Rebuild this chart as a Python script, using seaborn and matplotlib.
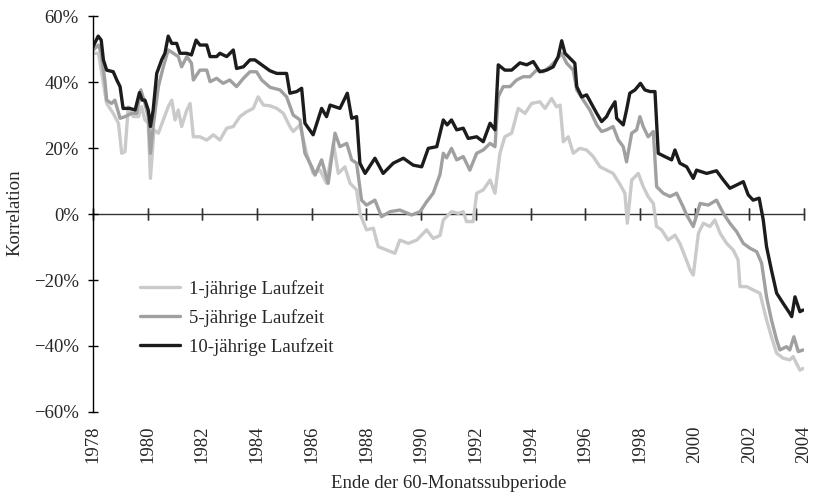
import numpy as np
import pandas as pd
import seaborn as sns
import matplotlib.pyplot as plt
from matplotlib.ticker import FuncFormatter

# Rollierende Korrelationen (60-Monatsfenster), Werte in Prozent
jahre_1j = [1978.00, 1978.20, 1978.30, 1978.50, 1978.74, 1978.93, 1979.05, 1979.17, 1979.29, 1979.47,
            1979.66, 1979.78, 1979.90, 1980.02, 1980.10, 1980.23, 1980.39, 1980.57, 1980.75, 1980.88,
            1981.00, 1981.12, 1981.24, 1981.43, 1981.55, 1981.67, 1981.91, 1982.16, 1982.40, 1982.64,
            1982.89, 1983.13, 1983.37, 1983.62, 1983.86, 1984.04, 1984.23, 1984.47, 1984.72, 1984.96,
            1985.20, 1985.32, 1985.57, 1985.81, 1986.05, 1986.30, 1986.54, 1986.79, 1986.97, 1987.21,
            1987.40, 1987.64, 1987.76, 1988.00, 1988.25, 1988.43, 1988.74, 1989.04, 1989.22, 1989.53,
            1989.84, 1990.20, 1990.44, 1990.69, 1990.81, 1991.11, 1991.36, 1991.54, 1991.66, 1991.90,
            1992.03, 1992.27, 1992.52, 1992.70, 1992.88, 1993.06, 1993.31, 1993.55, 1993.80, 1994.04,
            1994.34, 1994.53, 1994.77, 1994.95, 1995.08, 1995.20, 1995.38, 1995.56, 1995.80, 1996.05,
            1996.29, 1996.54, 1996.78, 1997.02, 1997.27, 1997.45, 1997.54, 1997.70, 1997.94, 1998.12,
            1998.30, 1998.49, 1998.61, 1998.79, 1999.03, 1999.28, 1999.46, 1999.65, 1999.84, 1999.95,
            2000.14, 2000.32, 2000.56, 2000.74, 2000.93, 2001.17, 2001.41, 2001.59, 2001.66, 2001.90,
            2002.14, 2002.39, 2002.63, 2002.81, 2003.00, 2003.24, 2003.48, 2003.60, 2003.85, 2003.97]
korr_1j = [48.7, 48.7, 43.6, 33.5, 30.5, 27.5, 18.4, 18.9, 32.5, 29.5,
           29.5, 32.5, 28.5, 27.5, 10.8, 25.5, 24.5, 28.5, 32.5, 34.5,
           28.5, 31.5, 26.5, 31.5, 33.5, 23.4, 23.4, 22.4, 24.0, 22.4,
           26.0, 26.5, 29.5, 31.0, 32.0, 35.5, 33.0, 32.8, 32.0, 30.5,
           26.5, 25.0, 27.0, 18.4, 12.3, 13.3, 9.3, 21.4, 12.3, 14.3,
           9.3, 7.3, 0.2, -4.8, -4.3, -9.9, -10.9, -11.9, -7.9, -8.9,
           -7.9, -4.8, -7.4, -6.5, -1.8, 0.7, 0.2, 0.7, -2.3, -2.3,
           6.3, 7.3, 10.3, 6.3, 18.4, 23.4, 24.5, 32.0, 30.5, 33.5,
           34.0, 32.0, 35.0, 32.5, 33.0, 21.9, 23.4, 18.4, 19.9, 19.4,
           17.4, 14.3, 13.3, 12.3, 9.0, 6.3, -2.8, 10.3, 12.3, 8.3,
           5.3, 3.2, -3.8, -4.8, -7.9, -6.4, -8.9, -12.9, -17.0, -18.5,
           -5.8, -2.8, -3.8, -1.8, -5.8, -8.9, -10.9, -13.9, -22.0, -22.0,
           -23.0, -24.0, -32.1, -37.2, -42.2, -43.7, -44.2, -43.2, -47.3, -46.8]

jahre_5j = [1978.00, 1978.20, 1978.30, 1978.44, 1978.50, 1978.68, 1978.80, 1978.99, 1979.17, 1979.41,
            1979.60, 1979.75, 1979.90, 1980.02, 1980.10, 1980.20, 1980.39, 1980.57, 1980.75, 1980.94,
            1981.12, 1981.24, 1981.43, 1981.60, 1981.67, 1981.91, 1982.16, 1982.28, 1982.52, 1982.76,
            1983.00, 1983.25, 1983.50, 1983.74, 1983.98, 1984.17, 1984.47, 1984.84, 1985.08, 1985.32,
            1985.57, 1985.75, 1986.00, 1986.12, 1986.36, 1986.60, 1986.85, 1987.03, 1987.28, 1987.46,
            1987.64, 1987.82, 1988.00, 1988.31, 1988.55, 1988.86, 1989.22, 1989.65, 1989.96, 1990.20,
            1990.44, 1990.69, 1990.81, 1990.93, 1991.11, 1991.30, 1991.54, 1991.78, 1992.03, 1992.27,
            1992.52, 1992.70, 1992.82, 1993.00, 1993.25, 1993.49, 1993.73, 1993.98, 1994.22, 1994.46,
            1994.71, 1994.95, 1995.14, 1995.32, 1995.56, 1995.69, 1995.93, 1996.17, 1996.42, 1996.60,
            1996.78, 1997.02, 1997.21, 1997.39, 1997.51, 1997.70, 1997.88, 1998.00, 1998.12, 1998.30,
            1998.49, 1998.61, 1998.85, 1999.10, 1999.34, 1999.58, 1999.71, 1999.95, 2000.20, 2000.50,
            2000.80, 2001.05, 2001.29, 2001.54, 2001.78, 2002.03, 2002.27, 2002.45, 2002.63, 2002.81,
            2003.00, 2003.12, 2003.36, 2003.48, 2003.63, 2003.79, 2003.97]
korr_5j = [49.7, 51.2, 48.7, 40.1, 34.5, 33.5, 34.5, 29.0, 29.5, 30.5,
           30.5, 37.6, 33.5, 29.5, 18.4, 26.5, 38.6, 44.6, 49.7, 48.7,
           47.7, 44.6, 47.7, 45.7, 40.6, 43.6, 43.6, 40.1, 41.1, 39.6,
           40.6, 38.6, 41.1, 43.1, 43.1, 40.6, 38.4, 37.6, 35.5, 30.0,
           28.5, 18.4, 14.3, 11.8, 16.4, 9.3, 24.5, 20.4, 21.4, 16.4,
           15.4, 4.2, 2.7, 4.2, -0.8, 0.7, 1.2, -0.3, 0.7, 3.7,
           6.3, 12.0, 18.4, 17.0, 19.9, 16.4, 17.4, 13.3, 18.4, 19.4,
           21.4, 20.4, 35.5, 38.6, 38.6, 40.6, 41.6, 41.6, 43.6, 43.1,
           44.6, 46.7, 48.7, 45.7, 43.6, 37.6, 34.5, 31.5, 27.0, 25.0,
           25.5, 26.5, 22.4, 20.4, 15.8, 24.5, 25.5, 29.5, 26.5, 23.4,
           25.0, 8.3, 6.3, 5.3, 6.3, 2.2, -0.3, -3.8, 3.2, 2.7,
           4.2, 0.2, -2.8, -5.4, -8.9, -10.4, -11.4, -14.9, -25.1, -32.1,
           -38.2, -41.2, -40.2, -41.2, -37.2, -41.7, -41.2]

jahre_10j = [1978.00, 1978.19, 1978.30, 1978.38, 1978.50, 1978.74, 1978.87, 1978.99, 1979.10, 1979.35,
             1979.54, 1979.70, 1979.80, 1979.90, 1980.02, 1980.10, 1980.20, 1980.33, 1980.51, 1980.63,
             1980.75, 1980.88, 1981.06, 1981.18, 1981.43, 1981.60, 1981.77, 1981.91, 1982.16, 1982.28,
             1982.52, 1982.64, 1982.89, 1983.13, 1983.25, 1983.50, 1983.74, 1983.92, 1984.17, 1984.47,
             1984.72, 1985.08, 1985.20, 1985.45, 1985.63, 1985.75, 1986.05, 1986.36, 1986.54, 1986.67,
             1987.03, 1987.30, 1987.46, 1987.64, 1987.76, 1987.95, 1988.31, 1988.61, 1988.98, 1989.35,
             1989.71, 1990.02, 1990.26, 1990.57, 1990.81, 1990.95, 1991.11, 1991.30, 1991.54, 1991.72,
             1992.03, 1992.27, 1992.52, 1992.70, 1992.82, 1993.06, 1993.31, 1993.61, 1993.86, 1994.10,
             1994.34, 1994.59, 1994.83, 1995.01, 1995.14, 1995.26, 1995.44, 1995.62, 1995.69, 1995.87,
             1996.05, 1996.29, 1996.42, 1996.60, 1996.78, 1996.90, 1997.09, 1997.15, 1997.39, 1997.51,
             1997.63, 1997.82, 1998.02, 1998.18, 1998.37, 1998.55, 1998.67, 1998.91, 1999.16, 1999.28,
             1999.46, 1999.71, 1999.95, 2000.07, 2000.44, 2000.80, 2001.05, 2001.29, 2001.54, 2001.78,
             2001.96, 2002.14, 2002.36, 2002.51, 2002.63, 2002.81, 2003.00, 2003.24, 2003.48, 2003.55,
             2003.67, 2003.85, 2003.97]
korr_10j = [50.7, 53.9, 52.7, 46.7, 43.6, 43.1, 40.6, 38.6, 32.0, 32.0,
            31.5, 36.8, 34.5, 34.5, 31.5, 26.5, 31.5, 42.6, 46.7, 48.7,
            53.9, 51.7, 51.7, 48.7, 48.7, 48.2, 52.7, 51.2, 51.2, 47.7,
            47.7, 48.7, 47.7, 49.7, 44.1, 44.6, 46.7, 46.7, 45.2, 43.4,
            42.6, 42.6, 36.6, 37.1, 38.1, 27.5, 24.0, 32.0, 29.5, 33.0,
            32.0, 36.6, 29.0, 29.5, 15.4, 12.3, 16.9, 12.3, 15.4, 16.9,
            14.8, 14.3, 19.9, 20.4, 28.5, 27.0, 28.5, 25.5, 26.0, 22.9,
            23.4, 21.9, 27.5, 25.5, 45.2, 43.6, 43.6, 45.8, 45.2, 46.2,
            43.1, 43.6, 44.6, 47.7, 52.5, 48.7, 47.2, 45.7, 38.6, 35.5,
            36.1, 32.5, 30.5, 28.0, 29.5, 31.5, 34.0, 29.0, 27.0, 31.5,
            36.6, 37.6, 39.6, 37.6, 37.1, 37.1, 18.4, 17.4, 16.4, 19.4,
            15.4, 14.3, 10.8, 13.3, 12.3, 13.1, 10.3, 7.8, 8.8, 9.8,
            5.8, 4.2, 4.8, -1.8, -9.9, -17.0, -24.0, -27.1, -30.1, -31.1,
            -25.1, -29.6, -29.1]

laufzeiten = ["1-jährige Laufzeit", "5-jährige Laufzeit", "10-jährige Laufzeit"]
farben = ["#cacaca", "#a0a0a0", "#1c1c1c"]
x_ticks = list(range(1978, 2005, 2))
y_ticks = list(range(-60, 61, 20))

sns.set_theme(style="white")
plt.rcParams["font.family"] = ["Liberation Serif", "DejaVu Serif"]
fs = 13.5

frames = []
for name, x, y in zip(laufzeiten, [jahre_1j, jahre_5j, jahre_10j], [korr_1j, korr_5j, korr_10j]):
    frames.append(pd.DataFrame({"Jahr": x, "Korrelation": y, "Laufzeit": name}))
df = pd.concat(frames, ignore_index=True)

fig = plt.figure(figsize=(8.13, 4.96), dpi=100)
ax = fig.add_axes([93 / 813, 1 - 412 / 496, (804 - 93) / 813, (412 - 16) / 496])

sns.lineplot(data=df, x="Jahr", y="Korrelation", hue="Laufzeit", hue_order=laufzeiten,
             palette=dict(zip(laufzeiten, farben)), estimator=None, linewidth=2.4, ax=ax)

ax.set_xlim(1978, 2004)
ax.set_ylim(-60, 60)
ax.set_xticks(x_ticks)
ax.set_yticks(y_ticks)
ax.yaxis.set_major_formatter(FuncFormatter(lambda v, _: f"{int(v)}%".replace("-", "\u2212")))
ax.tick_params(axis="x", bottom=True, length=0, pad=9.5, labelrotation=90, labelsize=fs)
ax.tick_params(axis="y", left=True, direction="inout", length=6.5, width=1, color="black",
               pad=7, labelsize=fs)
for side in ["top", "right", "bottom"]:
    ax.spines[side].set_visible(False)
ax.spines["left"].set_color("black")
ax.spines["left"].set_linewidth(1)
ax.set_xlabel("")
ax.set_ylabel("")

# Nulllinie mit Jahresmarken
zero = ax.secondary_xaxis(0, transform=ax.transData)
zero.set_xticks(x_ticks)
zero.tick_params(direction="inout", length=8.5, width=1, color="#333333",
                 labelbottom=False, labeltop=False, bottom=True, top=True)
for sp in zero.spines.values():
    sp.set_color("#333333")
    sp.set_linewidth(1)

fig.text(15 / 813, 1 - 213 / 496, "Korrelation", rotation=90, ha="center", va="center",
         fontsize=fs)
fig.text(449 / 813, 1 - 484 / 496, "Ende der 60-Monatssubperiode", ha="center", va="center",
         fontsize=fs)

ax.legend(loc="center left", bbox_to_anchor=(140 / 813, 1 - 318 / 496), bbox_transform=fig.transFigure,
          frameon=False, borderpad=0, borderaxespad=0, handlelength=2.13, handletextpad=0.48,
          labelspacing=0.59, fontsize=fs)

fig.savefig("out.png", dpi=100)
